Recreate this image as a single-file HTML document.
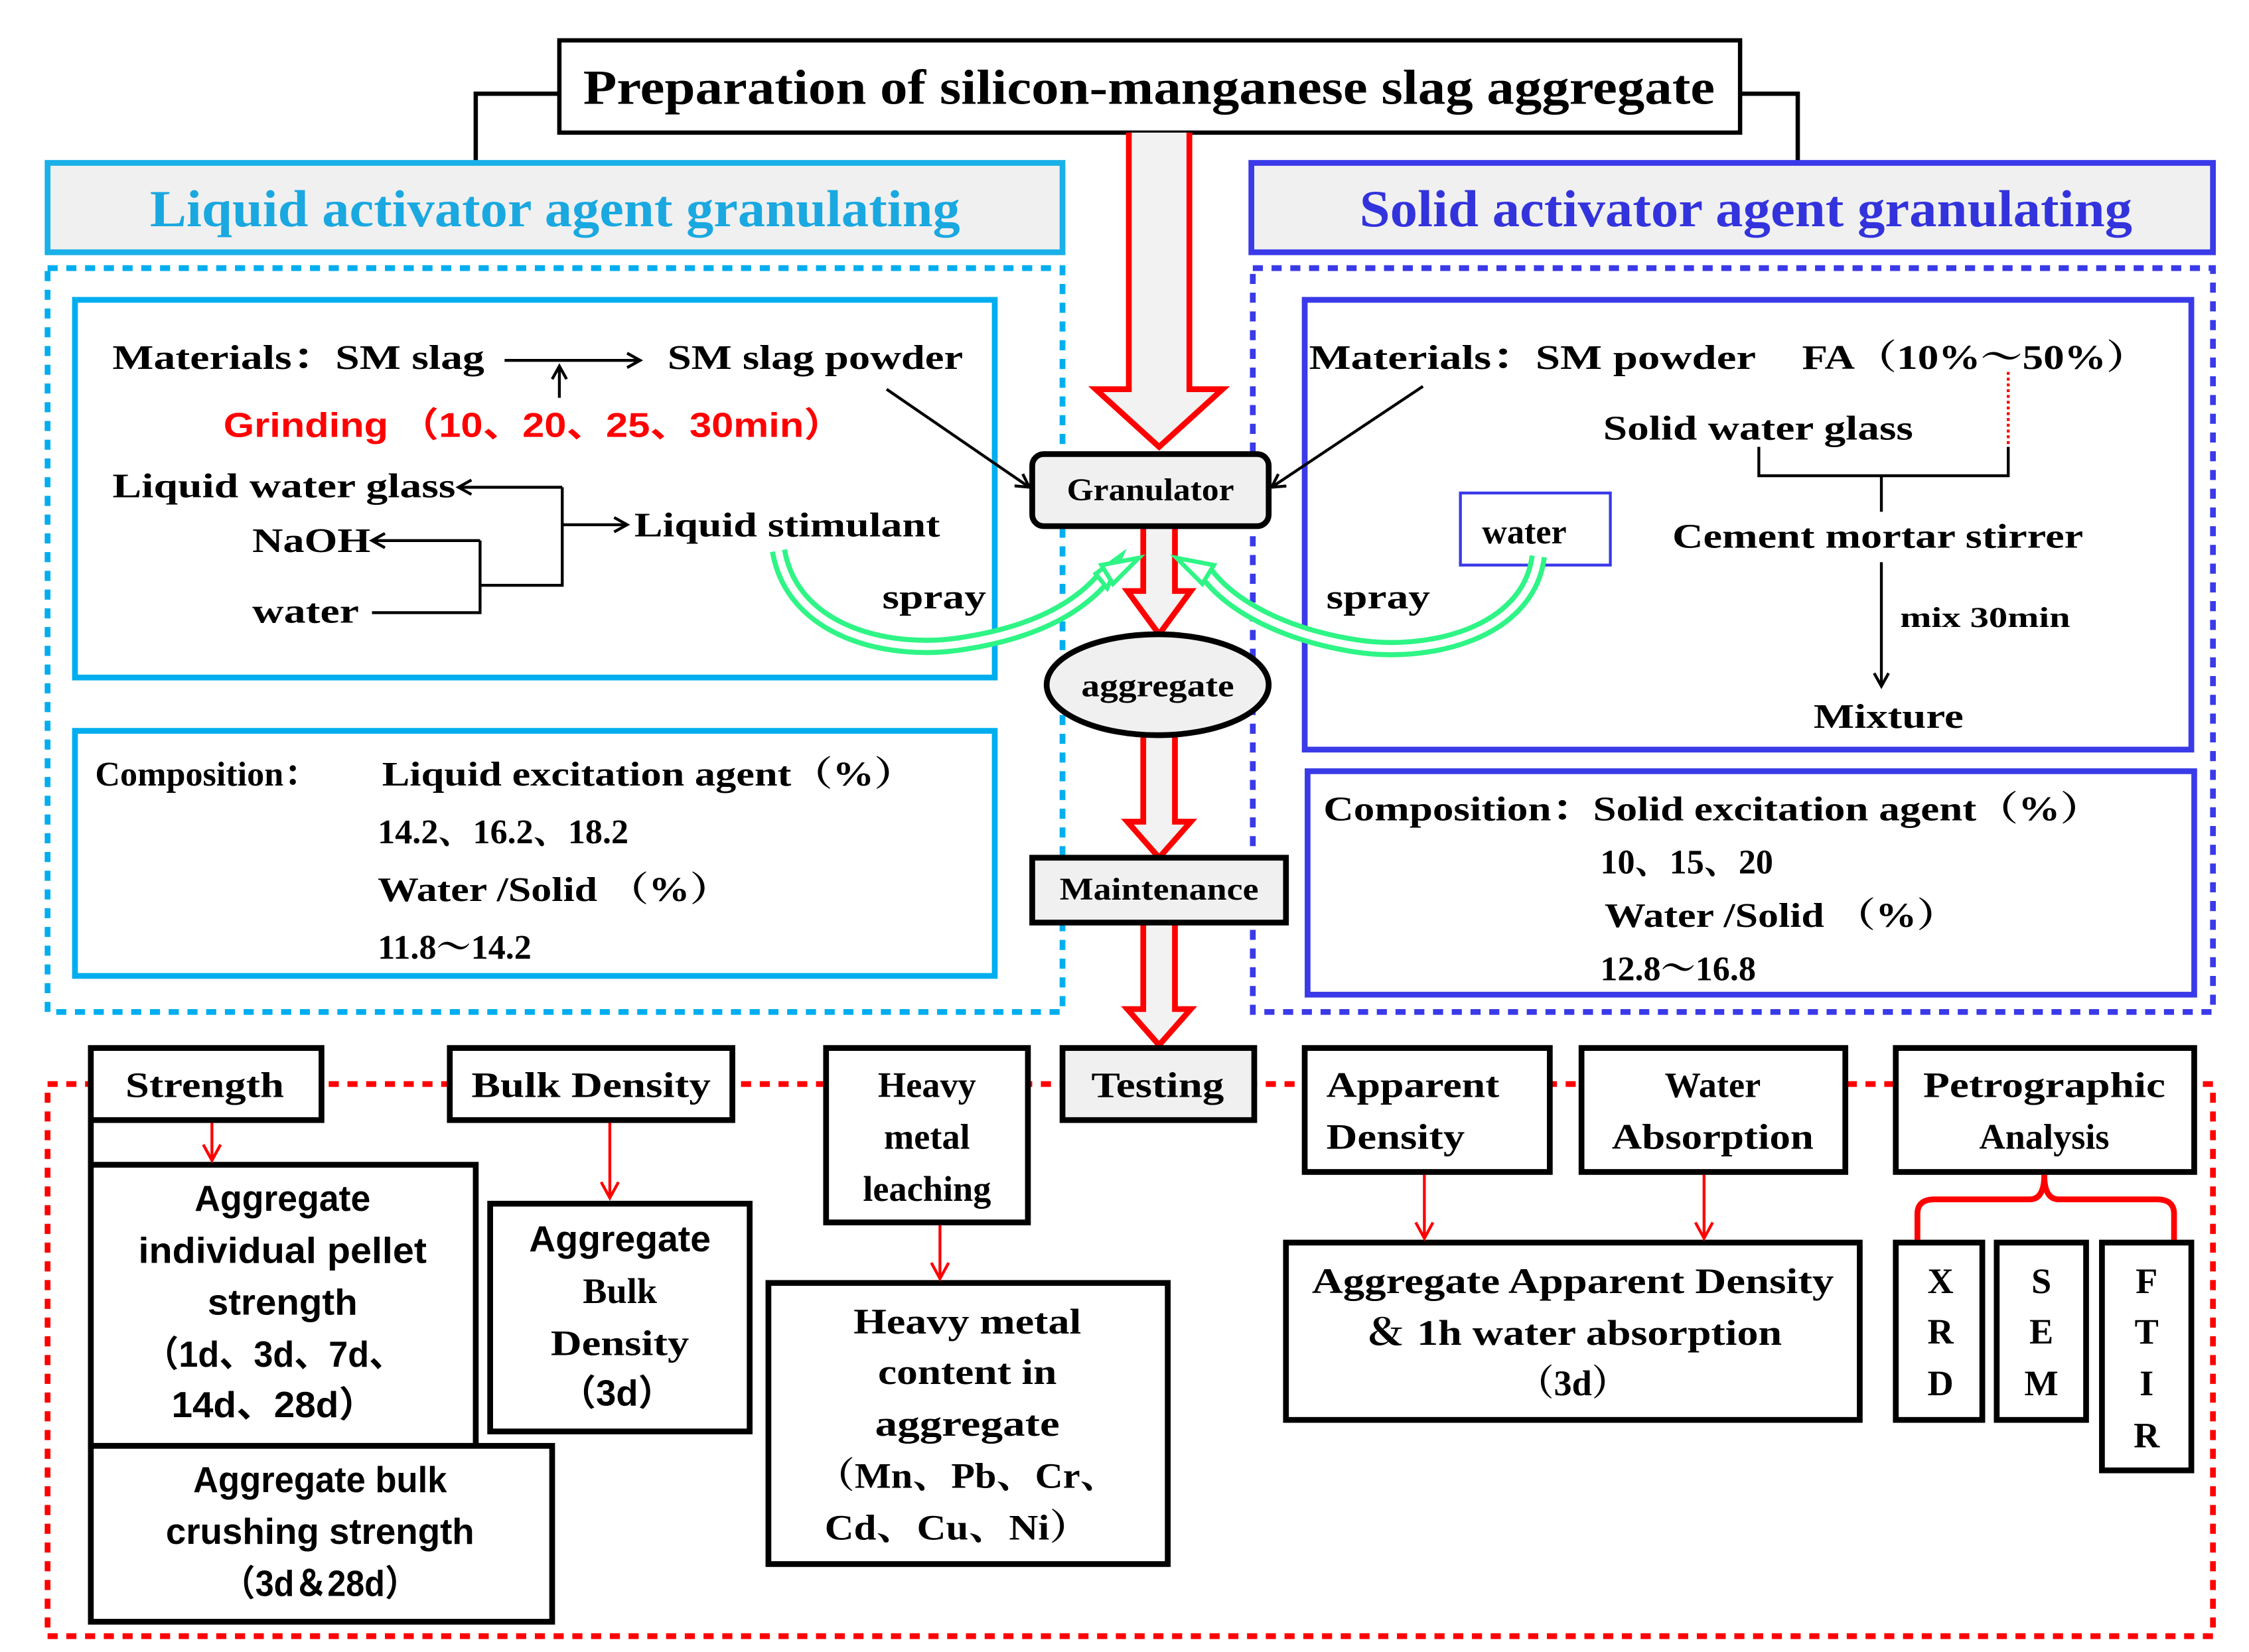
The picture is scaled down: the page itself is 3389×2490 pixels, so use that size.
<!DOCTYPE html>
<html><head><meta charset="utf-8"><style>html,body{margin:0;padding:0;background:#fff}svg{display:block}
text{font-family:"Liberation Serif","Noto Serif CJK SC",serif;font-weight:bold;fill:#000}
.s{font-family:"Liberation Sans","Noto Sans CJK SC",sans-serif}</style></head><body>
<svg width="3389" height="2490" viewBox="0 0 1560 1146" preserveAspectRatio="none" xmlns="http://www.w3.org/2000/svg">
<defs>
<marker id="ab" markerWidth="12" markerHeight="12" refX="10" refY="6" orient="auto" markerUnits="userSpaceOnUse"><path d="M1,1 L10,6 L1,11" fill="none" stroke="#000" stroke-width="2"/></marker>
<marker id="ar" markerWidth="14" markerHeight="14" refX="12" refY="7" orient="auto" markerUnits="userSpaceOnUse"><path d="M1,1 L12,7 L1,13" fill="none" stroke="#f00" stroke-width="2"/></marker>
</defs>
<!-- title -->
<path d="M388,65 H330 V112 M1207,65 H1247 V112" fill="none" stroke="#000" stroke-width="3"/>
<rect x="388" y="28" width="819" height="64" fill="#fff" stroke="#000" stroke-width="3"/>
<text x="797" y="72" font-size="34" text-anchor="middle" textLength="785" lengthAdjust="spacingAndGlyphs">Preparation of silicon-manganese slag aggregate</text>
<!-- headers -->
<rect x="33" y="113" width="704" height="62" fill="#f0f0f0" stroke="#1ab0e8" stroke-width="4"/>
<text x="385" y="157" font-size="36" text-anchor="middle" style="fill:#1aa8e0" textLength="562" lengthAdjust="spacingAndGlyphs">Liquid activator agent granulating</text>
<rect x="868" y="113" width="667" height="62" fill="#f0f0f0" stroke="#3a3ae8" stroke-width="4"/>
<text x="1211" y="157" font-size="36" text-anchor="middle" style="fill:#3333dd" textLength="536" lengthAdjust="spacingAndGlyphs">Solid activator agent granulating</text>
<!-- dotted regions -->
<rect x="33" y="186" width="704" height="516" fill="none" stroke="#00aeef" stroke-width="4" stroke-dasharray="7,6"/>
<rect x="869" y="186" width="666" height="516" fill="none" stroke="#3a3ae8" stroke-width="4" stroke-dasharray="7,6"/>
<rect x="33" y="752" width="1502" height="383" fill="none" stroke="#f00" stroke-width="4" stroke-dasharray="7,6"/>
<!-- left inner -->
<rect x="52" y="208" width="638" height="262" fill="#fff" stroke="#00aeef" stroke-width="4"/>
<text x="78" y="256" font-size="24" textLength="258" lengthAdjust="spacingAndGlyphs">Materials：SM slag</text>
<line x1="350" y1="250" x2="444" y2="250" stroke="#000" stroke-width="2" marker-end="url(#ab)"/>
<line x1="388" y1="276" x2="388" y2="254" stroke="#000" stroke-width="2" marker-end="url(#ab)"/>
<text x="463" y="256" font-size="24" textLength="205" lengthAdjust="spacingAndGlyphs">SM slag powder</text>
<text x="155" y="303" font-size="24" class="s" style="fill:#f00" textLength="430" lengthAdjust="spacingAndGlyphs">Grinding （10、20、25、30min）</text>
<text x="78" y="345" font-size="24" textLength="238" lengthAdjust="spacingAndGlyphs">Liquid water glass</text>
<text x="175" y="383" font-size="24" textLength="82" lengthAdjust="spacingAndGlyphs">NaOH</text>
<text x="175" y="432" font-size="24" textLength="74" lengthAdjust="spacingAndGlyphs">water</text>
<path d="M390,338 H318" stroke="#000" stroke-width="2" fill="none" marker-end="url(#ab)"/>
<path d="M390,338 V406 H333" stroke="#000" stroke-width="2" fill="none"/>
<path d="M333,375 H258" stroke="#000" stroke-width="2" fill="none" marker-end="url(#ab)"/>
<path d="M333,375 V425 H258" stroke="#000" stroke-width="2" fill="none"/>
<path d="M390,364 H435" stroke="#000" stroke-width="2" fill="none" marker-end="url(#ab)"/>
<text x="440" y="372" font-size="24" textLength="212" lengthAdjust="spacingAndGlyphs">Liquid stimulant</text>
<text x="612" y="422" font-size="24" textLength="72" lengthAdjust="spacingAndGlyphs">spray</text>
<line x1="615" y1="270" x2="714" y2="338" stroke="#000" stroke-width="2" marker-end="url(#ab)"/>
<!-- left comp -->
<rect x="52" y="507" width="638" height="170" fill="#fff" stroke="#00aeef" stroke-width="4"/>
<text x="66" y="545" font-size="24">Composition：</text>
<text x="265" y="545" font-size="24" textLength="370" lengthAdjust="spacingAndGlyphs">Liquid excitation agent（%）</text>
<text x="262" y="585" font-size="24">14.2、16.2、18.2</text>
<text x="262" y="625" font-size="24" textLength="245" lengthAdjust="spacingAndGlyphs">Water /Solid （%）</text>
<text x="262" y="665" font-size="24">11.8～14.2</text>
<!-- right inner -->
<rect x="905" y="208" width="615" height="312" fill="#fff" stroke="#3a3ae8" stroke-width="4"/>
<text x="908" y="256" font-size="24" textLength="310" lengthAdjust="spacingAndGlyphs">Materials：SM powder</text>
<text x="1250" y="256" font-size="24" textLength="240" lengthAdjust="spacingAndGlyphs">FA（10%～50%）</text>
<line x1="987" y1="268" x2="882" y2="338" stroke="#000" stroke-width="2" marker-end="url(#ab)"/>
<text x="1112" y="305" font-size="24" textLength="215" lengthAdjust="spacingAndGlyphs">Solid water glass</text>
<path d="M1393,258 V310" stroke="#f00" stroke-width="2" stroke-dasharray="2,2"/>
<path d="M1220,310 V330 H1393 V310 M1305,330 V355" stroke="#000" stroke-width="2" fill="none"/>
<rect x="1013" y="342" width="104" height="50" fill="#fff" stroke="#3a3ae8" stroke-width="2"/>
<text x="1028" y="377" font-size="24">water</text>
<text x="1160" y="380" font-size="24" textLength="285" lengthAdjust="spacingAndGlyphs">Cement mortar stirrer</text>
<line x1="1305" y1="390" x2="1305" y2="476" stroke="#000" stroke-width="2" marker-end="url(#ab)"/>
<text x="1318" y="435" font-size="20" textLength="118" lengthAdjust="spacingAndGlyphs">mix  30min</text>
<text x="1258" y="505" font-size="24" textLength="104" lengthAdjust="spacingAndGlyphs">Mixture</text>
<text x="920" y="422" font-size="24" textLength="72" lengthAdjust="spacingAndGlyphs">spray</text>
<!-- right comp -->
<rect x="907" y="535" width="615" height="155" fill="#fff" stroke="#3a3ae8" stroke-width="4"/>
<text x="918" y="569" font-size="24" textLength="540" lengthAdjust="spacingAndGlyphs">Composition：Solid excitation agent（%）</text>
<text x="1110" y="606" font-size="24">10、15、20</text>
<text x="1113" y="643" font-size="24" textLength="245" lengthAdjust="spacingAndGlyphs">Water /Solid （%）</text>
<text x="1110" y="680" font-size="24">12.8～16.8</text>
<!-- big arrows -->
<path d="M783,92 V270 H760 L804,310 L848,270 H825 V92" fill="#f2f2f2" stroke="#f00" stroke-width="4"/>
<path d="M793,365 V410 H782 L804,440 L826,410 H815 V365" fill="#f2f2f2" stroke="#f00" stroke-width="4"/>
<path d="M793,510 V570 H782 L804,595 L826,570 H815 V510" fill="#f2f2f2" stroke="#f00" stroke-width="4"/>
<path d="M793,640 V700 H782 L804,725 L826,700 H815 V640" fill="#f2f2f2" stroke="#f00" stroke-width="4"/>
<!-- green arrows -->
<g fill="none" stroke-linecap="butt">
<path d="M540,382 C550,440 620,455 670,446 C720,438 752,420 770,395" stroke="#2ef585" stroke-width="12"/>
<path d="M540,382 C550,440 620,455 670,446 C720,438 752,420 770,395" stroke="#fff" stroke-width="5"/>
<path d="M1067,386 C1060,440 990,456 940,448 C890,440 852,420 835,395" stroke="#2ef585" stroke-width="12"/>
<path d="M1067,386 C1060,440 990,456 940,448 C890,440 852,420 835,395" stroke="#fff" stroke-width="5"/>
</g>
<path d="M766,402 L760,398 L789,383 L779,382 Z" fill="#fff"/>
<polygon points="778,385 768,408 760,398" fill="#fff" stroke="#2ef585" stroke-width="3"/>
<polygon points="764,392 790,387 772,405" fill="#fff" stroke="#2ef585" stroke-width="3"/>
<polygon points="842,392 816,387 834,405" fill="#fff" stroke="#2ef585" stroke-width="3"/>
<!-- granulator / aggregate / maintenance / testing -->
<rect x="716" y="315" width="164" height="50" rx="8" fill="#f0f0f0" stroke="#000" stroke-width="4"/>
<text x="798" y="347" font-size="22" text-anchor="middle" textLength="116" lengthAdjust="spacingAndGlyphs">Granulator</text>
<ellipse cx="803" cy="475" rx="77" ry="35" fill="#f0f0f0" stroke="#000" stroke-width="4"/>
<text x="803" y="483" font-size="22" text-anchor="middle" textLength="106" lengthAdjust="spacingAndGlyphs">aggregate</text>
<rect x="716" y="595" width="176" height="45" fill="#f0f0f0" stroke="#000" stroke-width="4"/>
<text x="804" y="624" font-size="22" text-anchor="middle" textLength="138" lengthAdjust="spacingAndGlyphs">Maintenance</text>
<rect x="737" y="727" width="133" height="50" fill="#f0f0f0" stroke="#000" stroke-width="4"/>
<text x="803" y="761" font-size="25" text-anchor="middle" textLength="92" lengthAdjust="spacingAndGlyphs">Testing</text>
<!-- test row -->
<g fill="#fff" stroke="#000" stroke-width="4">
<rect x="63" y="727" width="160" height="50"/>
<rect x="312" y="727" width="196" height="50"/>
<rect x="573" y="727" width="140" height="121"/>
<rect x="905" y="727" width="170" height="86"/>
<rect x="1097" y="727" width="183" height="86"/>
<rect x="1315" y="727" width="207" height="86"/>
<path d="M63,777 V808" fill="none"/>
<rect x="63" y="808" width="267" height="195"/>
<rect x="63" y="1003" width="320" height="122"/>
<rect x="340" y="835" width="180" height="158"/>
<rect x="533" y="890" width="277" height="195"/>
<rect x="892" y="862" width="398" height="123"/>
<rect x="1315" y="862" width="60" height="123"/>
<rect x="1385" y="862" width="62" height="123"/>
<rect x="1458" y="862" width="62" height="158"/>
</g>
<g font-size="25" text-anchor="middle">
<text x="142" y="761" textLength="110" lengthAdjust="spacingAndGlyphs">Strength</text>
<text x="410" y="761" textLength="166" lengthAdjust="spacingAndGlyphs">Bulk Density</text>
<text x="643" y="761">Heavy</text><text x="643" y="797">metal</text><text x="643" y="833">leaching</text>
<text x="980" y="761" textLength="120" lengthAdjust="spacingAndGlyphs">Apparent</text>
<text x="968" y="797" textLength="96" lengthAdjust="spacingAndGlyphs">Density</text>
<text x="1188" y="761">Water</text>
<text x="1188" y="797" textLength="140" lengthAdjust="spacingAndGlyphs">Absorption</text>
<text x="1418" y="761" textLength="168" lengthAdjust="spacingAndGlyphs">Petrographic</text>
<text x="1418" y="797">Analysis</text>
</g>
<g font-size="25" text-anchor="middle" class="s">
<text class="s" x="196" y="840" textLength="122" lengthAdjust="spacingAndGlyphs">Aggregate</text>
<text class="s" x="196" y="876" textLength="200" lengthAdjust="spacingAndGlyphs">individual pellet</text>
<text class="s" x="196" y="912" textLength="104" lengthAdjust="spacingAndGlyphs">strength</text>
<text class="s" x="190" y="948" textLength="180" lengthAdjust="spacingAndGlyphs">（1d、3d、7d、</text>
<text class="s" x="190" y="983" textLength="142" lengthAdjust="spacingAndGlyphs">14d、28d）</text>
<text class="s" x="222" y="1035" textLength="176" lengthAdjust="spacingAndGlyphs">Aggregate bulk</text>
<text class="s" x="222" y="1071" textLength="214" lengthAdjust="spacingAndGlyphs">crushing strength</text>
<text class="s" x="222" y="1107" textLength="136" lengthAdjust="spacingAndGlyphs">（3d＆28d）</text>
<text class="s" x="430" y="868" textLength="126" lengthAdjust="spacingAndGlyphs">Aggregate</text>
</g>
<g font-size="25" text-anchor="middle">
<text x="430" y="904">Bulk</text>
<text x="430" y="940" textLength="96" lengthAdjust="spacingAndGlyphs">Density</text>
<text x="428" y="975" class="s">（3d）</text>
<text x="671" y="925" textLength="158" lengthAdjust="spacingAndGlyphs">Heavy metal</text>
<text x="671" y="960" textLength="124" lengthAdjust="spacingAndGlyphs">content in</text>
<text x="671" y="996" textLength="128" lengthAdjust="spacingAndGlyphs">aggregate</text>
<text x="671" y="1032" textLength="210" lengthAdjust="spacingAndGlyphs">（Mn、Pb、Cr、</text>
<text x="664" y="1068" textLength="184" lengthAdjust="spacingAndGlyphs">Cd、Cu、Ni）</text>
<text x="1091" y="897" textLength="362" lengthAdjust="spacingAndGlyphs">Aggregate Apparent Density</text>
<text x="1091" y="933" textLength="290" lengthAdjust="spacingAndGlyphs">＆ 1h water absorption</text>
<text x="1091" y="968">（3d）</text>
<text x="1346" y="897">X</text><text x="1346" y="932">R</text><text x="1346" y="968">D</text>
<text x="1416" y="897">S</text><text x="1416" y="932">E</text><text x="1416" y="968">M</text>
<text x="1489" y="897">F</text><text x="1489" y="932">T</text><text x="1489" y="968">I</text><text x="1489" y="1004">R</text>
</g>
<!-- red arrows -->
<g stroke="#f00" stroke-width="2" fill="none">
<line x1="147" y1="779" x2="147" y2="805" marker-end="url(#ar)"/>
<line x1="423" y1="779" x2="423" y2="831" marker-end="url(#ar)"/>
<line x1="652" y1="850" x2="652" y2="887" marker-end="url(#ar)"/>
<line x1="988" y1="815" x2="988" y2="859" marker-end="url(#ar)"/>
<line x1="1182" y1="815" x2="1182" y2="859" marker-end="url(#ar)"/>
<path d="M1330,860 V842 Q1330,832 1342,832 H1408 Q1418,832 1418,815 Q1418,832 1428,832 H1496 Q1508,832 1508,842 V860" stroke-width="4"/>
</g>
</svg>
</body></html>
